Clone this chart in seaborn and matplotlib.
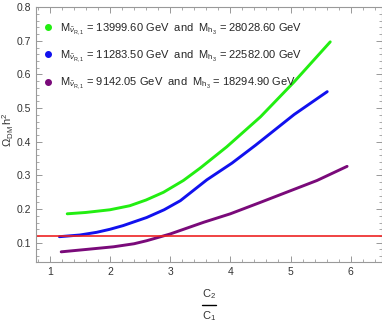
import numpy as np
import pandas as pd
import seaborn as sns
import matplotlib.pyplot as plt
from matplotlib.lines import Line2D

# values
green_x = [1.29, 1.6, 2.0, 2.33, 2.6, 2.89, 3.22, 3.5, 3.94, 4.5, 5.06, 5.66]
green_y = [0.186, 0.19, 0.198, 0.21, 0.227, 0.25, 0.285, 0.322, 0.385, 0.474, 0.578, 0.697]
blue_x = [1.16, 1.5, 1.78, 2.0, 2.22, 2.61, 2.9, 3.17, 3.61, 4.03, 4.42, 5.06, 5.61]
blue_y = [0.118, 0.123, 0.131, 0.14, 0.151, 0.175, 0.198, 0.225, 0.287, 0.337, 0.39, 0.481, 0.549]
purple_x = [1.19, 1.6, 2.06, 2.4, 2.61, 3.0, 3.56, 4.0, 4.5, 4.89, 5.44, 5.94]
purple_y = [0.073, 0.08, 0.088, 0.097, 0.106, 0.126, 0.161, 0.186, 0.22, 0.247, 0.285, 0.327]
planck = 0.12

labels = [
    r"$\mathrm{M}_{\tilde{\nu}_{\mathrm{R},1}}$ = 13999.60 GeV  and  $\mathrm{M}_{\mathrm{h}_3}$ = 28028.60 GeV",
    r"$\mathrm{M}_{\tilde{\nu}_{\mathrm{R},1}}$ = 11283.50 GeV  and  $\mathrm{M}_{\mathrm{h}_3}$ = 22582.00 GeV",
    r"$\mathrm{M}_{\tilde{\nu}_{\mathrm{R},1}}$ = 9142.05 GeV  and  $\mathrm{M}_{\mathrm{h}_3}$ = 18294.90 GeV",
]
colors = ["#22ee11", "#1111ee", "#7a0a7a"]

df = pd.concat([
    pd.DataFrame({"x": green_x, "y": green_y, "set": labels[0]}),
    pd.DataFrame({"x": blue_x, "y": blue_y, "set": labels[1]}),
    pd.DataFrame({"x": purple_x, "y": purple_y, "set": labels[2]}),
])

sns.set_style("ticks")
plt.rcParams['font.family'] = ['Liberation Sans', 'DejaVu Sans']
plt.rcParams['mathtext.fontset'] = 'custom'
plt.rcParams['mathtext.rm'] = 'Liberation Sans'
plt.rcParams['mathtext.it'] = 'Liberation Sans:italic'

fig = plt.figure(figsize=(3.82, 3.27), dpi=100)
ax = fig.add_axes([0.094, 0.199, 0.906, 0.779])

sns.lineplot(data=df, x="x", y="y", hue="set", palette=colors, lw=2.1,
             legend=False, ax=ax, sort=False)
ax.axhline(planck, color="#ee2222", lw=1.2)

ax.set_xlim(0.77, 6.52)
ax.set_ylim(0.043, 0.8)
ax.set_xticks([1, 2, 3, 4, 5, 6])
ax.set_xticks(np.arange(0.8, 6.6, 0.2), minor=True)
ax.set_yticks([0.1, 0.2, 0.3, 0.4, 0.5, 0.6, 0.7, 0.8])
ax.set_yticks(np.arange(0.06, 0.8, 0.02), minor=True)
ax.tick_params(which="both", direction="in", top=True, right=True, colors="#888888",
               labelcolor="#333333", labelsize=7.5)
ax.tick_params(which="major", length=4, width=0.6)
ax.tick_params(which="minor", length=2, width=0.5)
for s in ax.spines.values():
    s.set_color("#999999")
    s.set_linewidth(0.8)

ax.set_xlabel("")
ax.set_ylabel(r"$\Omega_{\mathrm{DM}}\,\mathrm{h}^2$", fontsize=8, color="#333333")
ax.yaxis.set_label_coords(-0.058, 0.52)

# x label drawn as a stacked fraction C2 / C1
fig.text(209 / 382, 1 - 294 / 327, r"$\mathrm{C}_2$", ha="center", va="center",
         fontsize=8, color="#333333")
fig.text(209 / 382, 1 - 316 / 327, r"$\mathrm{C}_1$", ha="center", va="center",
         fontsize=8, color="#333333")
fig.add_artist(Line2D([202 / 382, 216 / 382], [1 - 304.5 / 327, 1 - 304.5 / 327],
                      color="black", lw=1.0))

handles = [Line2D([], [], marker="o", ls="", color=c, markersize=4) for c in colors]
ax.legend(handles, labels, loc="upper left", frameon=False, fontsize=8,
          handletextpad=0.1, labelspacing=1.05, borderaxespad=0.3,
          bbox_to_anchor=(-0.02, 0.975))

fig.savefig("out.png", dpi=100)
